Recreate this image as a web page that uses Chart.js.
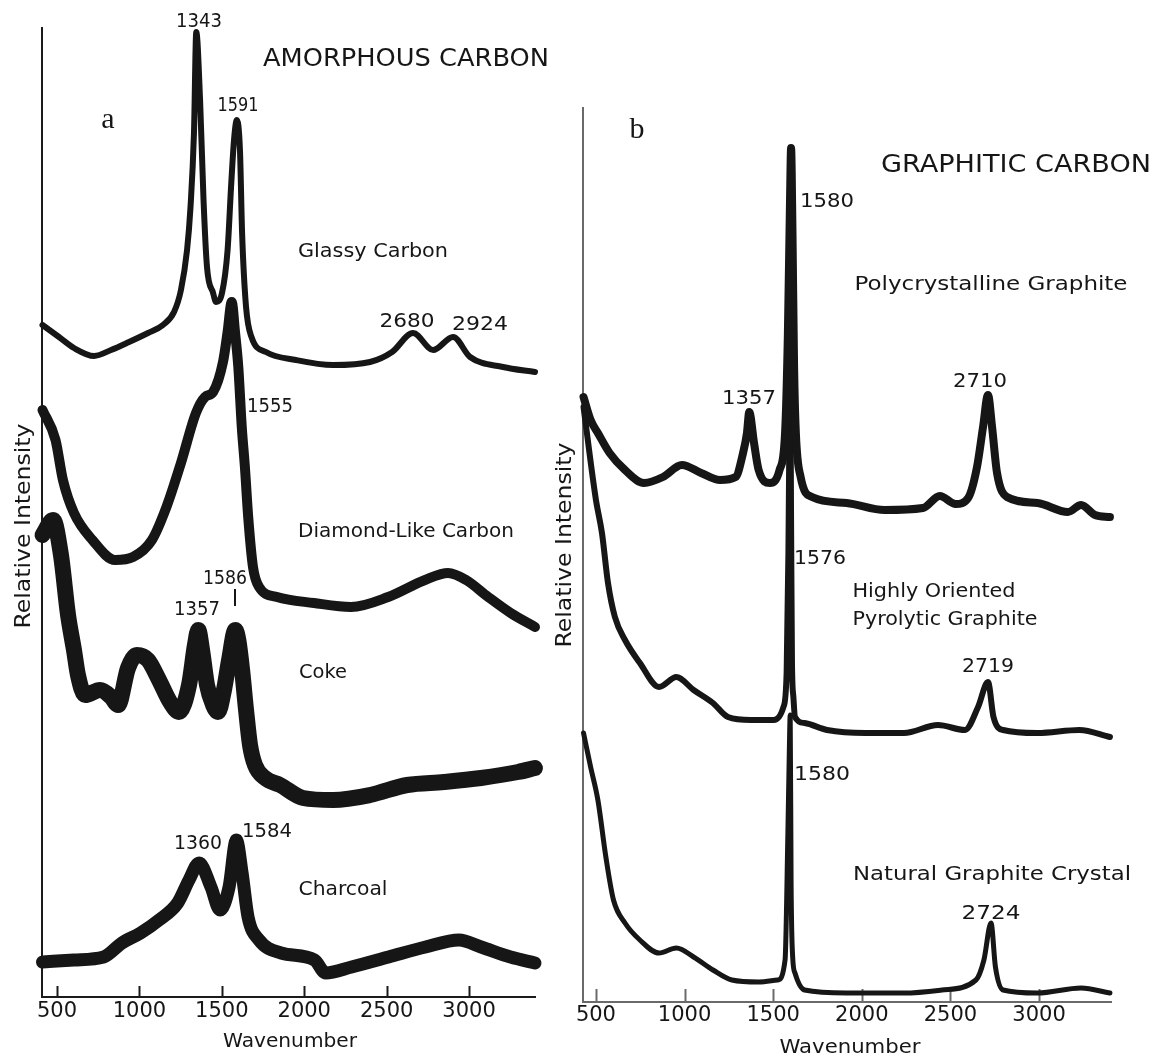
<!DOCTYPE html>
<html>
<head>
<meta charset="utf-8">
<title>Raman spectra of amorphous and graphitic carbon</title>
<script src="https://cdn.jsdelivr.net/npm/chart.js@4.4.1/dist/chart.umd.min.js"></script>
<style>
  html, body { margin: 0; padding: 0; background: #fff; }
  #wrap { position: relative; width: 1159px; height: 1057px; overflow: hidden; }
  #chartA { position: absolute; left: 0; top: 0; }
  #chartB { position: absolute; left: 540px; top: 0; }
</style>
</head>
<body>
<div id="wrap">
  <canvas id="chartA" width="560" height="1057"></canvas>
  <canvas id="chartB" width="619" height="1057"></canvas>
</div>
<script>
// wavenumber ticks shown on both panels
var tickValues = [500, 1000, 1500, 2000, 2500, 3000];

// panel a - amorphous carbon (intensities are stacked, arbitrary units)
var glassyWn = [412, 512, 603, 725, 828, 937, 1052, 1143, 1210, 1252, 1289, 1310, 1331, 1345, 1368, 1389, 1410, 1447, 1465, 1501, 1535, 1556, 1574, 1591, 1610, 1623, 1647, 1680, 1768, 1950, 2175, 2399, 2533, 2660, 2782, 2903, 3006, 3206, 3400];
var glassyI = [67.2, 66.0, 64.9, 64.1, 64.7, 65.5, 66.4, 67.2, 68.5, 70.7, 74.7, 79.0, 86.4, 96.5, 89.7, 79.7, 73.0, 70.4, 69.5, 70.4, 74.7, 81.0, 85.7, 87.7, 84.7, 76.4, 69.0, 66.0, 64.5, 63.7, 63.2, 63.5, 64.5, 66.4, 64.7, 66.0, 64.0, 63.0, 62.5];

var dlcWn = [412, 491, 536, 603, 715, 852, 961, 1076, 1164, 1252, 1343, 1398, 1447, 1507, 1535, 1560, 1580, 1600, 1621, 1640, 1660, 1689, 1726, 1835, 2059, 2284, 2509, 2733, 2873, 2982, 3116, 3252, 3400];
var dlcI = [58.7, 55.7, 51.7, 48.4, 45.7, 43.7, 44.0, 45.7, 49.0, 53.4, 58.4, 60.0, 60.5, 63.5, 66.5, 69.5, 66.5, 63.0, 57.0, 53.0, 48.0, 43.0, 41.0, 40.0, 39.4, 39.0, 40.0, 41.7, 42.4, 41.7, 40.0, 38.4, 37.0];

var cokeWn = [412, 476, 524, 567, 603, 627, 670, 761, 828, 870, 931, 985, 1052, 1119, 1186, 1240, 1301, 1337, 1357, 1380, 1410, 1447, 1477, 1513, 1544, 1582, 1600, 1623, 1647, 1671, 1701, 1762, 1853, 1993, 2175, 2399, 2624, 2848, 3073, 3297, 3400];
var cokeI = [46.2, 47.7, 44.2, 38.2, 34.7, 32.2, 30.2, 30.7, 30.0, 29.2, 32.9, 34.2, 33.7, 31.7, 29.5, 28.5, 31.2, 35.2, 36.7, 34.7, 31.2, 29.2, 28.5, 30.7, 33.7, 36.7, 35.7, 32.7, 28.7, 25.2, 23.2, 21.9, 21.2, 19.9, 19.7, 20.2, 21.2, 21.5, 21.9, 22.5, 22.9];

var charWn = [412, 603, 783, 894, 1007, 1119, 1232, 1301, 1362, 1434, 1489, 1544, 1588, 1623, 1659, 1726, 1859, 2062, 2130, 2287, 2512, 2736, 2939, 3073, 3252, 3400];
var charI = [3.5, 3.7, 4.0, 5.4, 6.4, 7.7, 9.4, 11.7, 13.4, 11.0, 8.7, 11.0, 15.7, 12.4, 8.0, 5.7, 4.4, 3.7, 2.4, 3.0, 4.0, 5.0, 5.7, 5.0, 4.0, 3.4];

// panel b - graphitic carbon
var polyWn = [430, 470, 511, 577, 664, 771, 878, 985, 1093, 1200, 1288, 1330, 1352, 1365, 1392, 1418, 1482, 1536, 1567, 1583, 1595, 1601, 1609, 1618, 1628, 1655, 1719, 1914, 2129, 2345, 2440, 2530, 2600, 2650, 2684, 2712, 2735, 2763, 2819, 2991, 3163, 3237, 3316, 3400];
var polyI = [60.5, 58.2, 56.9, 54.9, 53.2, 51.9, 52.5, 53.7, 52.9, 52.2, 52.5, 54.9, 56.9, 59.0, 55.9, 53.2, 51.9, 53.2, 56.9, 66.9, 80.2, 85.4, 76.9, 63.5, 56.9, 52.5, 50.5, 49.9, 49.2, 49.4, 50.6, 49.8, 50.4, 53.5, 57.5, 60.7, 57.5, 52.9, 50.5, 49.9, 49.0, 49.7, 48.7, 48.5];

var hopgWn = [430, 500, 534, 568, 607, 664, 748, 856, 954, 1051, 1160, 1245, 1375, 1504, 1558, 1576, 1586, 1591, 1596, 1601, 1606, 1614, 1623, 1677, 1804, 2021, 2238, 2430, 2582, 2656, 2712, 2743, 2797, 2991, 3228, 3400];
var hopgI = [59.5, 50.2, 46.9, 41.9, 38.5, 36.2, 33.9, 31.5, 32.5, 31.2, 29.9, 28.5, 28.2, 28.2, 29.5, 33.0, 45.0, 56.0, 63.2, 48.0, 34.0, 30.5, 28.5, 27.9, 27.2, 26.9, 26.9, 27.7, 27.2, 29.5, 32.0, 28.5, 27.2, 26.9, 27.2, 26.5];

var natWn = [430, 470, 511, 556, 599, 664, 748, 856, 954, 1051, 1160, 1267, 1418, 1525, 1567, 1583, 1591, 1596, 1601, 1610, 1623, 1677, 1914, 2238, 2452, 2644, 2689, 2729, 2754, 2797, 2991, 3237, 3400];
var natI = [26.9, 23.5, 20.2, 14.5, 10.2, 7.9, 6.2, 4.9, 5.4, 4.5, 3.2, 2.2, 2.0, 2.2, 4.2, 16.9, 25.0, 28.7, 12.0, 4.5, 2.9, 1.2, 0.9, 0.9, 1.2, 2.2, 4.2, 7.9, 3.5, 1.2, 0.9, 1.4, 0.9];

var INK = '#161616';
var SANS = '"DejaVu Sans", "Liberation Sans", sans-serif';
var SERIF = '"Liberation Serif", "DejaVu Serif", serif';

// text placed on each canvas: [text, centre x, centre y, width, font size, rotated]
var textsA = [
    ['1343', 199, 20, 46, 19],
    ['AMORPHOUS CARBON', 406, 57, 286, 25],
    ['1591', 238, 104, 41, 19],
    ['Glassy Carbon', 373, 250, 150, 20],
    ['2680', 407, 320, 55, 19],
    ['2924', 480, 323, 56, 19],
    ['1555', 270, 405, 46, 19],
    ['Diamond-Like Carbon', 406, 530, 216, 20],
    ['1586', 225, 577, 44, 19],
    ['1357', 197, 608, 46, 19],
    ['Coke', 323, 671, 48, 20],
    ['1360', 198, 842, 48, 19],
    ['1584', 267, 830, 50, 19],
    ['Charcoal', 343, 888, 89, 20],
    ['Wavenumber', 290, 1040, 134, 20],
    ['Relative Intensity', 22, 526, 205, 21, true]
];
var textsB = [
    ['GRAPHITIC CARBON', 476, 163, 270, 25],
    ['1580', 287, 200, 54, 19],
    ['Polycrystalline Graphite', 451, 283, 273, 20],
    ['1357', 209, 397, 54, 19],
    ['2710', 440, 380, 54, 19],
    ['1576', 280, 557, 52, 19],
    ['Highly Oriented', 394, 590, 163, 20],
    ['Pyrolytic Graphite', 405, 618, 185, 20],
    ['2719', 448, 665, 52, 19],
    ['1580', 282, 773, 56, 19],
    ['Natural Graphite Crystal', 452, 873, 278, 20],
    ['2724', 451, 912, 59, 19],
    ['Wavenumber', 310, 1046, 141, 20],
    ['Relative Intensity', 23, 545, 205, 21, true]
];

function pairs(xs, ys) {
    return xs.map(function (x, i) { return { x: x, y: ys[i] }; });
}

function spectrum(xs, ys, width) {
    return {
        data: pairs(xs, ys),
        borderColor: INK,
        borderWidth: width,
        borderJoinStyle: 'round',
        borderCapStyle: 'round',
        cubicInterpolationMode: 'monotone',
        pointRadius: 0,
        clip: false
    };
}

function drawLabel(ctx, t) {
    var size = t[4];
    ctx.save();
    ctx.font = size + 'px ' + SANS;
    ctx.fillStyle = INK;
    ctx.textAlign = 'center';
    ctx.textBaseline = 'alphabetic';
    var w = ctx.measureText(t[0]).width;
    ctx.translate(t[1], t[2]);
    if (t[5]) ctx.rotate(-Math.PI / 2);
    ctx.scale(t[3] / w, 1);
    ctx.fillText(t[0], 0, size * 0.36);
    ctx.restore();
}

// text, panel letter and inward tick marks
function decorations(texts, letter, tickLen, axisColor, extra) {
    return {
        id: 'decor',
        beforeDatasetsDraw: function (chart) {
            var ctx = chart.ctx;
            var xs = chart.scales.x;
            var bottom = chart.chartArea.bottom;
            ctx.save();
            ctx.strokeStyle = axisColor;
            ctx.lineWidth = 2;
            tickValues.forEach(function (v) {
                var px = Math.round(xs.getPixelForValue(v)) + 0.5;
                ctx.beginPath();
                ctx.moveTo(px, bottom);
                ctx.lineTo(px, bottom - tickLen);
                ctx.stroke();
            });
            ctx.restore();
        },
        afterDraw: function (chart) {
            var ctx = chart.ctx;
            texts.forEach(function (t) { drawLabel(ctx, t); });
            ctx.save();
            ctx.font = '30px ' + SERIF;
            ctx.fillStyle = INK;
            ctx.textAlign = 'center';
            ctx.fillText(letter[0], letter[1], letter[2]);
            ctx.restore();
            if (extra) extra(ctx, chart);
        }
    };
}

function makeChart(id, datasets, xMin, xMax, yMax, pad, tickLen, tickPad, axisColor, texts, letter, extra) {
    return new Chart(document.getElementById(id).getContext('2d'), {
        type: 'line',
        data: { datasets: datasets },
        options: {
            responsive: false,
            animation: false,
            devicePixelRatio: 1,
            layout: { padding: pad },
            plugins: { legend: { display: false }, tooltip: { enabled: false } },
            scales: {
                x: {
                    type: 'linear',
                    min: xMin,
                    max: xMax,
                    afterBuildTicks: function (s) {
                        s.ticks = tickValues.map(function (v) { return { value: v }; });
                    },
                    afterFit: function (s) { s.height = 40; },
                    grid: { display: false, drawTicks: false },
                    border: { display: true, color: axisColor, width: 2 },
                    ticks: {
                        color: INK,
                        padding: tickPad,
                        maxRotation: 0,
                        autoSkip: false,
                        font: { family: SANS, size: 21 },
                        callback: function (v) { return String(v); }
                    }
                },
                y: {
                    min: 0,
                    max: yMax,
                    afterFit: function (s) { s.width = 0; },
                    grid: { display: false, drawTicks: false },
                    border: { display: true, color: axisColor, width: 2 },
                    ticks: { display: false }
                }
            }
        },
        plugins: [decorations(texts, letter, tickLen, axisColor, extra)]
    });
}

makeChart('chartA', [
    spectrum(glassyWn, glassyI, 6),
    spectrum(dlcWn, dlcI, 10),
    spectrum(cokeWn, cokeI, 16),
    spectrum(charWn, charI, 13)
], 409, 3400, 96.9, { left: 42, top: 28, right: 25, bottom: 20 }, 11, 2, '#1a1a1a', textsA, ['a', 108, 128],
function (ctx) {
    // small marker above the 1586 coke band
    ctx.save();
    ctx.strokeStyle = INK;
    ctx.lineWidth = 2;
    ctx.beginPath();
    ctx.moveTo(235, 589);
    ctx.lineTo(235, 606);
    ctx.stroke();
    ctx.restore();
});

makeChart('chartB', [
    spectrum(polyWn, polyI, 8),
    spectrum(hopgWn, hopgI, 6),
    spectrum(natWn, natI, 5)
], 427, 3406, 89.4, { left: 43, top: 108, right: 48, bottom: 15 }, 13, 1, '#6a6a6a', textsB, ['b', 97, 138]);
</script>
</body>
</html>
